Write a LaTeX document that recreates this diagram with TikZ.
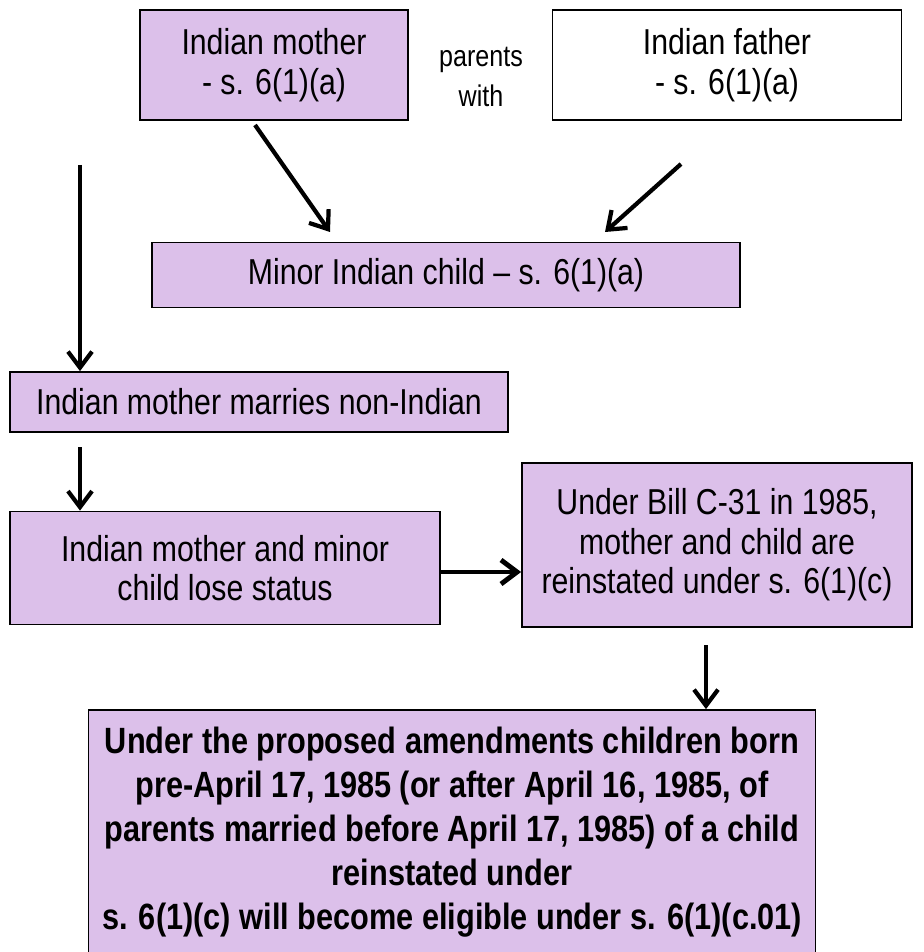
\documentclass[tikz,border=0pt]{standalone}
\usepackage{fontspec}
\setmainfont[FakeStretch=0.84]{Liberation Sans}
\usetikzlibrary{arrows.meta,calc}
\definecolor{lilac}{RGB}{220,192,234}

\begin{document}
\begin{tikzpicture}[x=0.02cm,y=-0.02cm,
    box/.style={draw=black,line width=1pt,fill=lilac,align=center,inner sep=0pt,
        font=\fontsize{20.5}{22.5}\selectfont},
    arr/.style={-{Straight Barb[length=3.2mm,width=4.8mm]},line width=2.4pt}]
                \useasboundingbox (0,0) rectangle (923,952);
                \node[box,minimum width=268*0.02cm,minimum height=110*0.02cm](mother)at(274, 65){Indian mother\\- s. 6(1)(a)};
                \node[align=center,font=\fontsize{17}{22.5}\selectfont](parents)at(481, 77){parents\\with};
                \node[box,fill=white,minimum width=349*0.02cm,minimum height=110*0.02cm](father)at(727, 65){Indian father\\- s. 6(1)(a)};
                \node[box,minimum width=588*0.02cm,minimum height=65*0.02cm](child)at(446, 275){Minor Indian child -- s. 6(1)(a)};
                \node[box,minimum width=498*0.02cm,minimum height=60*0.02cm](marries)at(259, 402){Indian mother marries non-Indian};
                \node[box,minimum width=430*0.02cm,minimum height=113*0.02cm](lose)at(225, 568){Indian mother and minor\\child lose status};
                \node[box,minimum width=390*0.02cm,minimum height=164*0.02cm](bill)at(717, 545){Under Bill C-31 in 1985,\\mother and child are\\reinstated under s. 6(1)(c)};
                \node[box,minimum width=727*0.02cm,minimum height=244*0.02cm,
                    font=\fontsize{20.8}{25}\selectfont\bfseries](amend)at(452, 832){Under the proposed amendments children born\\pre-April 17, 1985 (or after April 16, 1985, of\\parents married before April 17, 1985) of a child\\reinstated under\\s. 6(1)(c) will become eligible under s. 6(1)(c.01)};
                % free ends of the arrows
                \coordinate(mStart)at(255, 125);
                \coordinate(mEnd)at(330, 232);
                \coordinate(fStart)at(681, 164);
                \coordinate(fEnd)at(605, 232);
                \coordinate(leftTop)at(80, 165);
                \coordinate(leftMid)at(80, 447);
                \coordinate(billTop)at(706, 645);
                \path[arr](mStart) edge (mEnd)
                (fStart) edge (fEnd)
                (leftTop) edge (leftTop |- marries.north)
                (leftMid) edge (leftMid |- lose.north)
                (lose.east |- 0, 572) edge[line width=2.8pt] (bill.west |- 0, 572)
                (billTop) edge (billTop |- amend.north);
            \end{tikzpicture}
\end{document}
